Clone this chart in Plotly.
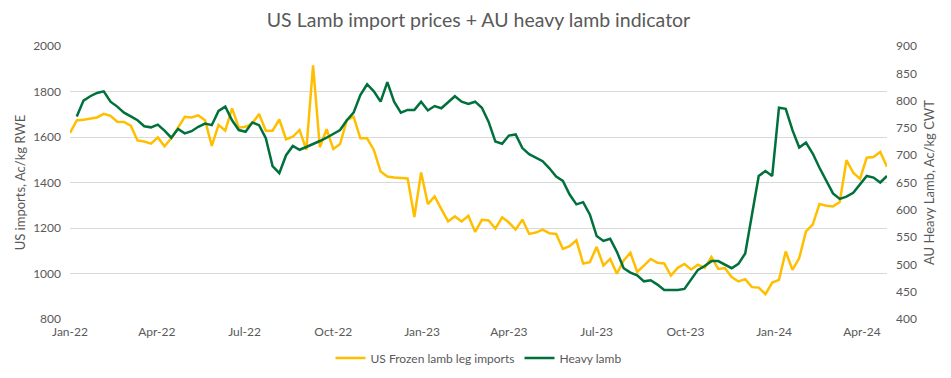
import datetime as dt
import plotly.graph_objects as go

start = dt.date(2022, 1, 1)

us_frozen_leg = [1618, 1673, 1676, 1682, 1686, 1702, 1693, 1667, 1666, 1650,
                 1585, 1580, 1571, 1598, 1559, 1594, 1642, 1689, 1686, 1695,
                 1674, 1561, 1653, 1628, 1726, 1641, 1645, 1660, 1701, 1628,
                 1628, 1677, 1590, 1601, 1631, 1543, 1915, 1555, 1634, 1547,
                 1569, 1674, 1689, 1594, 1594, 1543, 1448, 1426, 1422, 1420,
                 1418, 1248, 1444, 1305, 1339, 1283, 1229, 1251, 1229, 1254,
                 1183, 1236, 1233, 1197, 1247, 1224, 1193, 1237, 1174, 1180,
                 1193, 1177, 1174, 1108, 1120, 1146, 1044, 1050, 1117, 1035,
                 1064, 999, 1057, 1091, 1007, 1035, 1064, 1047, 1044, 991,
                 1025, 1042, 1018, 1039, 1025, 1073, 1020, 1024, 984, 965,
                 975, 940, 938, 909, 960, 972, 1097, 1016, 1068, 1185,
                 1215, 1306, 1298, 1295, 1314, 1498, 1443, 1416, 1509, 1512,
                 1534, 1469]

heavy_lamb = [771, 800, 808, 814, 817, 798, 789, 778, 771, 764,
              753, 751, 756, 745, 732, 748, 740, 744, 752, 758,
              755, 781, 789, 764, 746, 743, 760, 755, 731, 680,
              667, 700, 717, 710, 715, 720, 726, 732, 739, 746,
              764, 778, 810, 830, 817, 798, 834, 798, 778, 783,
              783, 798, 782, 790, 786, 797, 808, 798, 794, 798,
              787, 761, 725, 721, 736, 738, 713, 702, 695, 689,
              676, 661, 653, 628, 610, 614, 591, 552, 543, 547,
              523, 493, 485, 480, 469, 471, 463, 453, 453, 453,
              455, 473, 490, 497, 506, 506, 500, 493, 501, 520,
              591, 662, 671, 662, 787, 785, 746, 714, 723, 703,
              677, 653, 630, 620, 624, 631, 646, 662, 659, 650,
              662]

us_dates = [start + dt.timedelta(days=7 * i) for i in range(len(us_frozen_leg))]
hl_dates = [start + dt.timedelta(days=7 * (i + 1)) for i in range(len(heavy_lamb))]

tick_dates = ["2022-01-01", "2022-04-01", "2022-07-01", "2022-10-01",
              "2023-01-01", "2023-04-01", "2023-07-01", "2023-10-01",
              "2024-01-01", "2024-04-01"]
tick_labels = ["Jan-22", "Apr-22", "Jul-22", "Oct-22", "Jan-23", "Apr-23",
               "Jul-23", "Oct-23", "Jan-24", "Apr-24"]

FONT = "Lato"
GREY = "#595959"
W, H = 943, 370  # page body has an 8px margin

fig = go.Figure()
fig.add_trace(go.Scatter(x=us_dates, y=us_frozen_leg, mode="lines",
                         name="US Frozen lamb leg imports",
                         line=dict(color="#FFBF00", width=2.5)))
fig.add_trace(go.Scatter(x=hl_dates, y=heavy_lamb, mode="lines",
                         name="Heavy lamb", yaxis="y2",
                         line=dict(color="#00703C", width=2.5)))

fig.update_layout(
    width=W, height=H,
    margin=dict(l=62, r=64, t=38, b=59, autoexpand=False),
    paper_bgcolor="white", plot_bgcolor="white",
    font=dict(family=FONT, color=GREY, size=12),
    title=dict(text="US Lamb import prices + AU heavy lamb indicator",
               x=0.5, xanchor="center", xref="paper",
               y=1 - 12 / H, yanchor="middle", yref="container",
               font=dict(size=19.5, color=GREY, family=FONT)),
    showlegend=True,
    legend=dict(orientation="h", x=0.5, xanchor="center", xref="paper",
                y=1 - 350 / H, yanchor="middle", yref="container",
                font=dict(size=12, color=GREY), itemwidth=30),
    xaxis=dict(range=[us_dates[0], us_dates[-1]], tickvals=tick_dates,
               ticktext=tick_labels, showgrid=False, showline=False,
               zeroline=False, ticks="", tickfont=dict(size=12, color=GREY),
               ticklabelstandoff=4, automargin=False),
    yaxis=dict(range=[800, 2000], dtick=200, showgrid=True, gridcolor="#D9D9D9",
               gridwidth=1, zeroline=False, showline=False, ticks="",
               ticklabelstandoff=8, tickfont=dict(size=12, color=GREY),
               automargin=False,
               title=dict(text="US imports, Ac/kg RWE", font=dict(size=13, color=GREY),
                          standoff=4)),
    yaxis2=dict(range=[400, 900], dtick=50, overlaying="y", side="right",
                showgrid=False, zeroline=False, showline=False, ticks="",
                ticklabelstandoff=8, tickfont=dict(size=12, color=GREY),
                automargin=False,
                title=dict(text="AU Heavy Lamb, Ac/kg CWT", font=dict(size=13, color=GREY),
                           standoff=8)),
)

fig.write_html("out.html")
